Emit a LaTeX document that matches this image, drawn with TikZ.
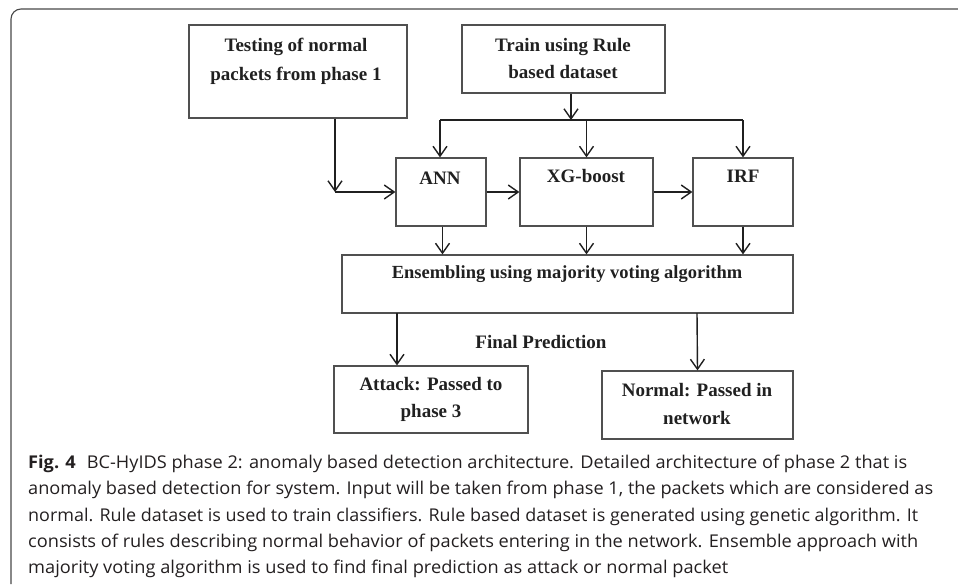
\documentclass[tikz,border=0pt]{standalone}
\usepackage{fontspec}
\usepackage{graphicx}
\setmainfont{Liberation Serif}
\newfontfamily\capfont{Open Sans}
\usetikzlibrary{arrows.meta}
\definecolor{boxline}{HTML}{505050}
\definecolor{ink}{HTML}{202020}
\definecolor{captxt}{HTML}{231F20}
% set a caption line stretched or squeezed to a given width (in pt)
\newsavebox\fitbox
\newcommand\fitto[2]{\sbox\fitbox{#2}\scalebox{\fpeval{(#1pt)/(\the\wd\fitbox)}}[1]{\usebox\fitbox}}
\tikzset{
  box/.style={draw=boxline, line width=1.2pt, rectangle, inner sep=0pt},
  lbl/.style={text=ink, font=\fontsize{19}{27}\selectfont\bfseries, align=center, inner sep=0pt},
  arr/.style={draw=ink, line width=1.4pt, -{Straight Barb[length=10pt,width=14pt,line width=1.4pt]}},
  wire/.style={draw=ink, line width=1.4pt},
  capline/.style={text=captxt, font=\capfont\fontsize{17.6}{26}\selectfont, anchor=base west, inner sep=0pt},
}
\begin{document}
\begin{tikzpicture}[x=1pt, y=-1pt]
\useasboundingbox (0,0) rectangle (958,584);

% outer frame, only the top-left corner is visible
\draw[draw=boxline!90!black, line width=1.1pt] (11,584) -- (11,19) arc[start angle=180, end angle=270, radius=10] -- (958,9);

% boxes
\node[box, minimum width=218pt, minimum height=93pt] (test)   at (298,71.5) {};
\node[box, minimum width=203pt, minimum height=68pt] (train)  at (563.5,59) {};
\node[box, minimum width=90pt,  minimum height=68pt] (ann)    at (441,192) {};
\node[box, minimum width=133pt, minimum height=68pt] (xg)     at (586.5,192) {};
\node[box, minimum width=100pt, minimum height=68pt] (irf)    at (743,192) {};
\node[box, minimum width=451pt, minimum height=58pt] (ens)    at (567.5,284) {};
\node[box, minimum width=194pt, minimum height=67pt] (attack) at (431,399.5) {};
\node[box, minimum width=191pt, minimum height=68pt] (normal) at (697.5,405) {};

% box texts
\node[lbl, font=\fontsize{19}{29}\selectfont\bfseries] (testtxt) at (296,61.5) {Testing of normal\\packets from phase 1};
\node[lbl] (traintxt) at (563,58.5) {Train using Rule\\based dataset};
\node[lbl] (anntxt) at (440,178) {ANN};
\node[lbl] (xgtxt) at (586,176) {XG-boost};
\node[lbl] (irftxt) at (743,176) {IRF};
\node[lbl, font=\fontsize{18.5}{27}\selectfont\bfseries] (enstxt) at (567,274) {Ensembling using majority voting algorithm};
\node[lbl] (finaltxt) at (541,342) {Final Prediction};
\node[lbl] (attacktxt) at (431,399.5) {Attack: Passed to\\phase 3};
\node[lbl, font=\fontsize{19}{28}\selectfont\bfseries] (normaltxt) at (697,404) {Normal: Passed in\\network};

% junction points
\coordinate (tc) at (335,192);
\coordinate (tj) at (571,120);
\coordinate (jl) at (440,120);
\coordinate (jr) at (743,120);
\coordinate (ea) at (397,313);
\coordinate (en) at (697,313);

% testing input into ANN
\draw[arr] (test.south -| tc) -- (tc);
\draw[arr] (tc) -- (ann.west |- tc);

% training data distributed to the three classifiers
\draw[arr] (train.south -| tj) -- (tj);
\draw[wire] (jl) -- (jr);
\draw[arr] (jl) -- (jl |- ann.north);
\draw[arr] (xg.north |- jl) -- (xg.north);
\draw[arr] (jr) -- (jr |- irf.north);

% chain of classifiers
\draw[arr] (ann.east) -- (xg.west);
\draw[arr] (xg.east) -- (irf.west);

% classifiers into the ensemble
\draw[arr] ([xshift=1.5pt]ann.south) -- ([xshift=1.5pt]ann.south |- ens.north);
\draw[arr] (xg.south) -- (xg.south |- ens.north);
\draw[arr] (irf.south) -- (irf.south |- ens.north);

% final prediction outputs
\draw[arr] (ea) -- (ea |- attack.north);
\draw[arr] (en) -- (normal.north);

% caption
\node[capline] (cap1) at (28,468) {\fitto{879}{\textbf{Fig. 4}\hspace{0.6em}BC-HyIDS phase 2: anomaly based detection architecture. Detailed architecture of phase 2 that is}};
\node[capline] (cap2) at (28,494) {\fitto{905}{anomaly based detection for system. Input will be taken from phase 1, the packets which are considered as}};
\node[capline] (cap3) at (28,521) {\fitto{890}{normal. Rule dataset is used to train classifiers. Rule based dataset is generated using genetic algorithm. It}};
\node[capline] (cap4) at (28,547) {\fitto{890}{consists of rules describing normal behavior of packets entering in the network. Ensemble approach with}};
\node[capline] (cap5) at (28,573) {\fitto{700}{majority voting algorithm is used to find final prediction as attack or normal packet}};
\end{tikzpicture}
\end{document}
